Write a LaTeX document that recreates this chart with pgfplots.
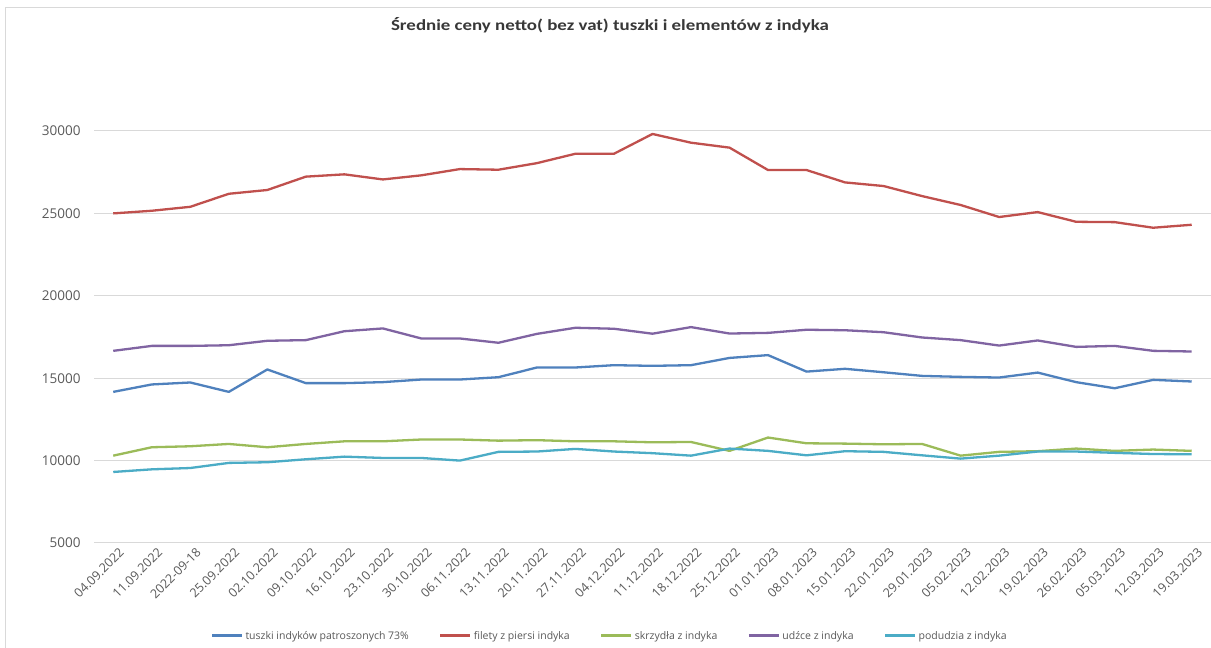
\documentclass[border=0pt]{standalone}
\usepackage{pgfplots}
\pgfplotsset{compat=1.18}
\usepackage{pgfplotstable}
\usepackage{fontspec}
\setmainfont{Open Sans}
\newfontfamily\titlefont{Carlito}
\definecolor{cblue}{HTML}{4F81BD}
\definecolor{cred}{HTML}{C0504D}
\definecolor{cgreen}{HTML}{9BBB59}
\definecolor{cpurple}{HTML}{8064A2}
\definecolor{ccyan}{HTML}{4BACC6}
\definecolor{gridc}{HTML}{D9D9D9}
\definecolor{txt}{HTML}{595959}
\pgfplotstableread{
x tuszki filety skrzydla udzce podudzia
0 14170 25000 10300 16660 9310
1 14620 25160 10810 16960 9470
2 14740 25400 10870 16960 9550
3 14170 26190 11010 17000 9860
4 15530 26420 10810 17270 9900
5 14700 27230 11010 17310 10080
6 14700 27370 11170 17850 10240
7 14760 27060 11170 18020 10160
8 14920 27310 11280 17410 10160
9 14920 27690 11280 17410 10000
10 15060 27650 11210 17150 10530
11 15650 28050 11240 17690 10550
12 15650 28620 11170 18060 10710
13 15790 28620 11170 18000 10550
14 15750 29820 11110 17700 10450
15 15790 29290 11130 18100 10300
16 16230 28990 10590 17710 10730
17 16400 27630 11400 17750 10590
18 15400 27630 11050 17940 10320
19 15570 26880 11030 17910 10570
20 15360 26660 10990 17790 10530
21 15140 26050 11010 17470 10320
22 15080 25510 10300 17310 10120
23 15040 24780 10530 16980 10300
24 15340 25080 10570 17290 10550
25 14760 24490 10730 16900 10550
26 14390 24470 10590 16960 10470
27 14900 24130 10670 16660 10400
28 14800 24310 10590 16620 10380
}\datatable
\begin{document}
\begin{tikzpicture}[x=1pt,y=1pt]
\useasboundingbox (0,0) rectangle (1211,648);
\fill[white] (0,0) rectangle (1211,648);
\draw[gridc, line width=1pt] (5,0) -- (5,640) -- (1211,640);
\node[text=txt!120] at (610,623) {\scalebox{1.22}[1]{\titlefont\bfseries\fontsize{15.5}{18}\selectfont Średnie ceny netto( bez vat) tuszki i elementów z indyka}};
\begin{axis}[
  at={(94pt,105pt)}, anchor=south west,
  scale only axis, width=1117pt, height=412pt,
  xmin=-0.5, xmax=28.5, ymin=5000, ymax=30000,
  scaled y ticks=false,
  ytick={5000,10000,15000,20000,25000,30000},
  yticklabels={5000,10000,15000,20000,25000,30000},
  xtick={0,...,28},
  xticklabels={04.09.2022,11.09.2022,2022-09-18,25.09.2022,02.10.2022,09.10.2022,16.10.2022,23.10.2022,30.10.2022,06.11.2022,13.11.2022,20.11.2022,27.11.2022,04.12.2022,11.12.2022,18.12.2022,25.12.2022,01.01.2023,08.01.2023,15.01.2023,22.01.2023,29.01.2023,05.02.2023,12.02.2023,19.02.2023,26.02.2023,05.03.2023,12.03.2023,19.03.2023},
  ymajorgrids, grid style={gridc, line width=1pt},
  axis line style={draw=none}, tick style={draw=none},
  yticklabel style={font=\fontsize{13.5}{16}\selectfont, text=txt, xshift=-10pt},
  xticklabel style={font=\fontsize{12.5}{15}\selectfont, text=txt, rotate=45, anchor=north east, xshift=4pt, yshift=-3pt},
  clip=false,
  legend columns=5,
  legend style={at={(0.4616,-0.2257)}, anchor=center, draw=none, fill=none,
    font=\fontsize{10.5}{12}\selectfont, text=txt,
    /tikz/every even column/.append style={column sep=28pt}},
  legend image code/.code={\draw[#1, line width=3pt] (0pt,0pt) -- (30pt,0pt);},
  every axis plot/.append style={line width=2.3pt, line join=round, mark=none},
]
\addplot[cblue] table[x=x,y=tuszki]{\datatable};
\addlegendentry{tuszki indyków patroszonych 73\%}
\addplot[cred] table[x=x,y=filety]{\datatable};
\addlegendentry{filety z piersi indyka}
\addplot[cgreen] table[x=x,y=skrzydla]{\datatable};
\addlegendentry{skrzydła z indyka}
\addplot[cpurple] table[x=x,y=udzce]{\datatable};
\addlegendentry{udźce z indyka}
\addplot[ccyan] table[x=x,y=podudzia]{\datatable};
\addlegendentry{podudzia z indyka}
\end{axis}
\end{tikzpicture}
\end{document}
